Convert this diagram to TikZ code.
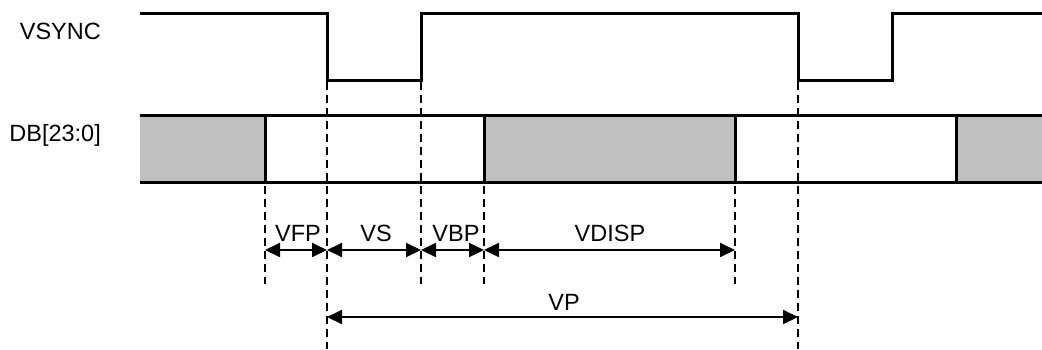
\documentclass[tikz,border=0pt]{standalone}
\usepackage{fontspec}
\setmainfont{Liberation Sans}
\usetikzlibrary{arrows.meta}
\begin{document}
\begin{tikzpicture}[x=1pt,y=-1pt,
  sig/.style={line width=3pt, line join=miter},
  guide/.style={line width=1.6pt, dash pattern=on 8pt off 5pt},
  dim/.style={line width=2pt, {Triangle[length=15pt,width=14pt]}-{Triangle[length=15pt,width=14pt]}},
  lbl/.style={font=\fontsize{23.5}{28}\selectfont, inner sep=0pt},
  gray/.style={fill={rgb,255:red,192;green,192;blue,192}}]
\useasboundingbox (0,0) rectangle (1042,349);
% labels
\node[lbl, anchor=base east] (vsl) at (101,39) {VSYNC};
\node[lbl, anchor=base east] (dbl) at (101,141) {DB[23:0]};
% gray data areas
\fill[gray] (140,115) rectangle (265,182);
\fill[gray] (484,115) rectangle (735,182);
\fill[gray] (956,115) rectangle (1042,182);
% bus lines
\draw[sig] (140,115) -- (1042,115);
\draw[sig] (140,182) -- (1042,182);
\draw[sig] (265,115) -- (265,182);
\draw[sig] (484,115) -- (484,182);
\draw[sig] (735,115) -- (735,182);
\draw[sig] (956,115) -- (956,182);
% vsync waveform
\draw[sig] (140,13) -- (327,13) -- (327,80) -- (421,80) -- (421,13) -- (798,13) -- (798,80) -- (892,80) -- (892,13) -- (1042,13);
% coordinates
\coordinate (a) at (265,250); \coordinate (b) at (327,250);
\coordinate (c) at (421,250); \coordinate (d) at (484,250);
\coordinate (e) at (735,250);
\coordinate (p1) at (327,317); \coordinate (p2) at (798,317);
% guides
\draw[guide] (265,186) -- (265,284);
\draw[guide] (327,82) -- (327,349);
\draw[guide] (421,82) -- (421,284);
\draw[guide] (484,186) -- (484,284);
\draw[guide] (735,186) -- (735,284);
\draw[guide] (798,82) -- (798,349);
% dimension arrows
\draw[dim] (a) -- (b);
\draw[dim] (b) -- (c);
\draw[dim] (c) -- (d);
\draw[dim] (d) -- (e);
\draw[dim] (p1) -- (p2);
\node[lbl, anchor=base] (vfp) at (298,241) {VFP};
\node[lbl, anchor=base] (vs) at (376,241) {VS};
\node[lbl, anchor=base] (vbp) at (456,241) {VBP};
\node[lbl, anchor=base] (vdisp) at (610,241) {VDISP};
\node[lbl, anchor=base] (vp) at (564,310) {VP};
\end{tikzpicture}
\end{document}
